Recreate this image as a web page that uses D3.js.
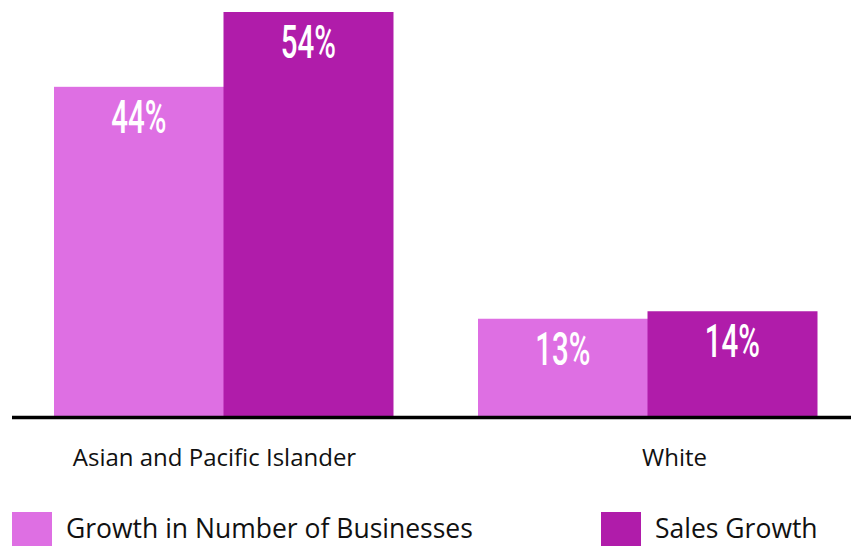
<!DOCTYPE html>
<html>
<head>
<meta charset="utf-8">
<script src="https://cdn.jsdelivr.net/npm/d3@7"></script>
<style>
  body { margin: 0; background: #fff; }
  svg { display: block; }
</style>
</head>
<body>
<div id="chart"></div>
<script>
// data
var categories = ["Asian and Pacific Islander", "White"];
var seriesNames = ["Growth in Number of Businesses", "Sales Growth"];
var businessGrowth = [44, 13];
var salesGrowth = [54, 14];

var colors = ["#de6fe3", "#b01caa"];

var svgWidth = 851;
var svgHeight = 546;
var baseY = 416;

var svg = d3.select("#chart")
    .append("svg")
    .attr("width", svgWidth)
    .attr("height", svgHeight);

var data = categories.map((c, i) => ({
    category: c,
    values: [businessGrowth[i], salesGrowth[i]]
}));

// scales
var x0 = d3.scaleBand()
    .domain(categories)
    .range([54, 817])
    .paddingInner(0.2005)
    .paddingOuter(0);

var x1 = d3.scaleBand()
    .domain(d3.range(seriesNames.length))
    .range([0, x0.bandwidth()])
    .padding(0);

var y = d3.scaleLinear()
    .domain([0, 54])
    .range([baseY, 12]);

// bars
var groups = svg.selectAll("g.group")
    .data(data)
    .enter()
    .append("g")
    .attr("class", "group")
    .attr("transform", d => `translate(${x0(d.category)}, 0)`);

groups.selectAll("rect")
    .data(d => d.values)
    .enter()
    .append("rect")
    .attr("x", (d, i) => x1(i))
    .attr("y", d => y(d))
    .attr("width", x1.bandwidth() + 0.5)
    .attr("height", d => baseY - y(d))
    .attr("fill", (d, i) => colors[i]);

// value labels (condensed look)
groups.selectAll("text.value")
    .data(d => d.values)
    .enter()
    .append("text")
    .attr("class", "value")
    .attr("transform", (d, i) => `translate(${x1(i) + x1.bandwidth() / 2}, ${y(d) + 46}) scale(0.64, 1)`)
    .attr("text-anchor", "middle")
    .style("font-family", "Roboto, sans-serif")
    .style("font-weight", 500)
    .style("font-size", "46px")
    .attr("fill", "#fff")
    .text(d => d + "%");

// baseline
svg.append("line")
    .attr("x1", 12)
    .attr("x2", svgWidth)
    .attr("y1", baseY + 1.5)
    .attr("y2", baseY + 1.5)
    .attr("stroke", "#000")
    .attr("stroke-width", 3.5);

// category labels
var labelShift = [-9, 27];
svg.selectAll("text.cat")
    .data(categories)
    .enter()
    .append("text")
    .attr("class", "cat")
    .attr("x", (d, i) => x0(d) + x0.bandwidth() / 2 + labelShift[i])
    .attr("y", 466)
    .attr("text-anchor", "middle")
    .style("font-family", "'Open Sans', sans-serif")
    .style("font-size", "24px")
    .attr("fill", "#111")
    .text(d => d);

// legend
var legendX = [12, 601];
var legend = svg.selectAll("g.legend")
    .data(seriesNames)
    .enter()
    .append("g")
    .attr("class", "legend")
    .attr("transform", (d, i) => `translate(${legendX[i]}, 512)`);

legend.append("rect")
    .attr("width", 40)
    .attr("height", 34)
    .attr("fill", (d, i) => colors[i]);

legend.append("text")
    .attr("x", 54)
    .attr("y", 26)
    .style("font-family", "'Open Sans', sans-serif")
    .style("font-size", "26.5px")
    .attr("fill", "#111")
    .text(d => d);
</script>
</body>
</html>
